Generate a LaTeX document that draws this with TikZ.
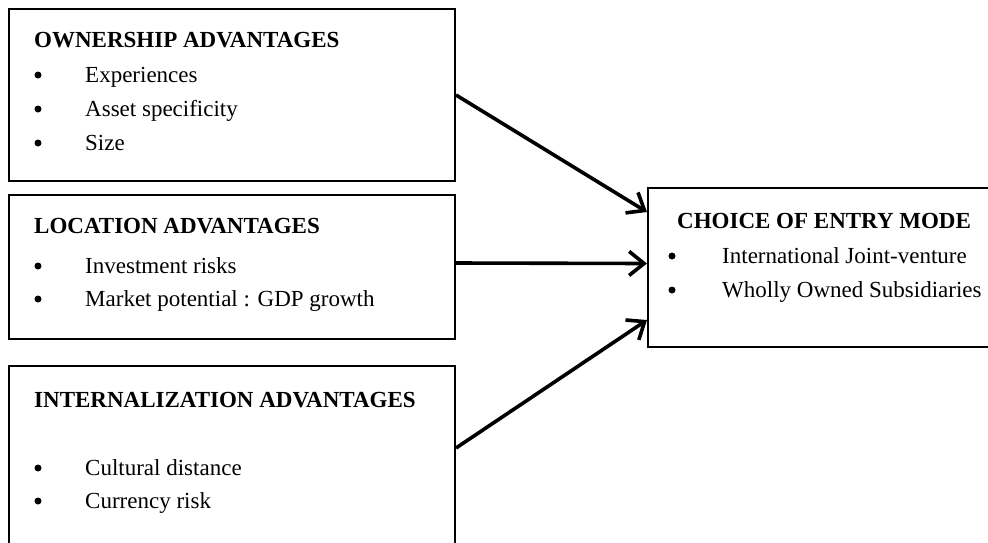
\documentclass[tikz,border=0pt]{standalone}
\usepackage{fontspec}
\setmainfont{Liberation Serif}
\usetikzlibrary{arrows.meta,positioning}
\begin{document}
\begin{tikzpicture}[x=1pt, y=-1pt, font=\fontsize{23}{27}\selectfont,
	>={Straight Barb[length=15pt,width=24pt]}]
	\tikzset{
		advbox/.style={draw, line width=2pt, minimum width=446pt, inner sep=0pt},
		boxtitle/.style={anchor=base west, inner sep=0pt, font=\fontsize{23}{27}\selectfont\bfseries},
		item/.style={anchor=base west, inner sep=0pt},
		dot/.style={circle, fill, inner sep=0pt, minimum size=7pt},
		link/.style={->, line width=3.6pt}
	}
	\useasboundingbox (0,0) rectangle (988,542);
	% boxes
	\node[advbox, minimum height=172pt] (own) at (232,95) {};
	\node[advbox, minimum height=144pt] (loc) at (232,267) {};
	\node[advbox, minimum height=180pt] (int) at (232,456) {};
	\node[advbox, minimum width=344pt, minimum height=159pt] (choice) at (820,267.5) {};
	% titles
	\node[boxtitle] (own-t) at (34,47) {OWNERSHIP ADVANTAGES};
	\node[boxtitle] (loc-t) at (34,233) {LOCATION ADVANTAGES};
	\node[boxtitle] (int-t) at (34,407) {INTERNALIZATION ADVANTAGES};
	\node[boxtitle] (choice-t) at (677,228) {CHOICE OF ENTRY MODE};
	% items
	\foreach \txt [count=\i] in {Experiences, Asset specificity, Size} {
		\node[dot] (own-b\i) at (38,75+34*\i-34) {};
		\node[item] (own-i\i) at (85,82+34*\i-34) {\txt};
	}
	\foreach \txt [count=\i] in {Investment risks, Market potential : GDP growth} {
		\node[dot] (loc-b\i) at (38,266+33*\i-33) {};
		\node[item] (loc-i\i) at (85,273+33*\i-33) {\txt};
	}
	\foreach \txt [count=\i] in {Cultural distance, Currency risk} {
		\node[dot] (int-b\i) at (38,468+33*\i-33) {};
		\node[item] (int-i\i) at (85,475+33*\i-33) {\txt};
	}
	\foreach \txt [count=\i] in {International Joint-venture, Wholly Owned Subsidiaries} {
		\node[dot] (choice-b\i) at (672,256+34*\i-34) {};
		\node[item] (choice-i\i) at (722,263+34*\i-34) {\txt};
	}
	% arrows
	\draw[link] (own.east) -- ([yshift=55.5pt]choice.west);
	\draw[link] ([yshift=4pt]loc.east) -- ([yshift=4pt]choice.west);
	\draw[link] ([yshift=8pt]int.east) -- ([yshift=-52.5pt]choice.west);
\end{tikzpicture}
\end{document}
